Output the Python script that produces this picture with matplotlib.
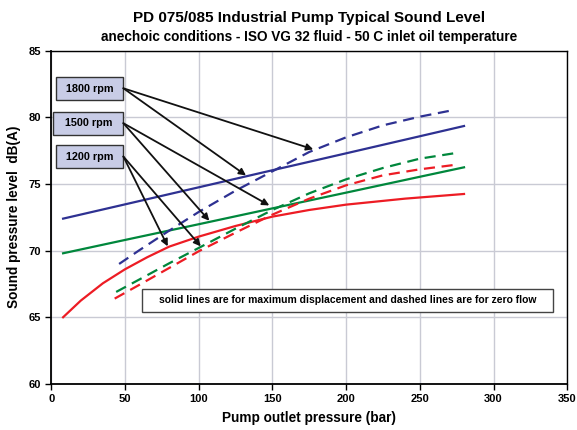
import matplotlib
matplotlib.use("Agg")
import matplotlib.pyplot as plt
from matplotlib.patches import Rectangle

plt.rcParams['font.family'] = ['Liberation Sans', 'DejaVu Sans']
plt.rcParams['font.weight'] = 'bold'

# solid lines = maximum displacement
p_solid = [8, 50, 100, 150, 200, 250, 280]
db_1800_solid = [72.4, 73.47, 74.75, 76.03, 77.3, 78.58, 79.35]
db_1500_solid = [69.8, 70.8, 71.98, 73.17, 74.35, 75.54, 76.25]
p_1200_solid = [8, 20, 35, 50, 65, 80, 100, 125, 150, 175, 200, 240, 280]
db_1200_solid = [65.0, 66.25, 67.55, 68.6, 69.5, 70.3, 71.05, 71.85, 72.55, 73.05, 73.45, 73.9, 74.25]

# dashed lines = zero flow
p_1800_dash = [46, 60, 80, 100, 125, 150, 175, 200, 225, 250, 273]
db_1800_dash = [69.0, 70.05, 71.5, 72.9, 74.5, 75.95, 77.4, 78.5, 79.4, 80.05, 80.55]
p_1500_dash = [44, 60, 80, 100, 125, 150, 175, 200, 225, 250, 276]
db_1500_dash = [66.9, 67.85, 69.05, 70.2, 71.65, 73.05, 74.3, 75.35, 76.2, 76.9, 77.35]
p_1200_dash = [43, 60, 80, 100, 125, 150, 175, 200, 225, 250, 275]
db_1200_dash = [66.4, 67.45, 68.7, 69.95, 71.35, 72.7, 73.9, 74.9, 75.65, 76.1, 76.45]

rpm_labels = ["1800 rpm", "1500 rpm", "1200 rpm"]
blue, green, red = "#2e3192", "#00873c", "#ed1c24"

fig = plt.figure(figsize=(5.77, 4.30), dpi=100)
ax = fig.add_axes([51.3 / 577, 1 - 383.9 / 430, 515.9 / 577, 333.2 / 430])

lw = 1.6
dash = (0, (5, 3))
ax.plot(p_solid, db_1800_solid, color=blue, lw=lw)
ax.plot(p_solid, db_1500_solid, color=green, lw=lw)
ax.plot(p_1200_solid, db_1200_solid, color=red, lw=lw)
ax.plot(p_1800_dash, db_1800_dash, color=blue, lw=lw, linestyle=dash)
ax.plot(p_1500_dash, db_1500_dash, color=green, lw=lw, linestyle=dash)
ax.plot(p_1200_dash, db_1200_dash, color=red, lw=lw, linestyle=dash)

ax.set_xlim(0, 350)
ax.set_ylim(60, 85)
ax.set_xticks(range(0, 351, 50))
ax.set_yticks(range(60, 86, 5))
ax.grid(True, color="#c9cad4", lw=1)
ax.set_axisbelow(True)
ax.tick_params(direction="out", length=4, labelsize=8, width=1)
for s in ax.spines.values():
    s.set_color("black")
    s.set_linewidth(1)
ax.spines['left'].set_linewidth(1.3)
ax.spines['bottom'].set_linewidth(1.3)

ax.set_xlabel("Pump outlet pressure (bar)", fontsize=9.8, fontweight="bold", labelpad=5)
ax.set_ylabel("Sound pressure level  dB(A)", fontsize=9.8, fontweight="bold", labelpad=5)

fig.text(309 / 577, 1 - 18 / 430, "PD 075/085 Industrial Pump Typical Sound Level",
         ha="center", va="center", fontsize=11, fontweight="bold")
fig.text(309 / 577, 1 - 37 / 430,
         "anechoic conditions - ISO VG 32 fluid - 50 C inlet oil temperature",
         ha="center", va="center", fontsize=9.8, fontweight="bold")

# rpm label boxes (data coords) and arrows
boxes = [(3.0, 81.3, 45.9, 1.7), (1.4, 78.7, 47.5, 1.7), (3.0, 76.2, 45.9, 1.7)]
origins = [(48.9, 82.18), (48.9, 79.56), (48.9, 77.06)]
targets = [[(177.7, 77.6), (132.1, 75.64)],
           [(147.9, 73.39), (107.2, 72.24)],
           [(79.0, 70.32), (101.4, 70.32)]]
for label, (bx, by, bw, bh), org, tips in zip(rpm_labels, boxes, origins, targets):
    ax.add_patch(Rectangle((bx, by), bw, bh, facecolor="#c8cce6", edgecolor="#333333",
                           lw=1, zorder=5, clip_on=False))
    ax.text(bx + bw / 2, by + bh / 2, label, ha="center", va="center",
            fontsize=7.8, fontweight="bold", zorder=6)
    for tip in tips:
        ax.annotate("", xy=tip, xytext=org,
                    arrowprops=dict(arrowstyle="-|>", color="#111111", lw=1.3,
                                    mutation_scale=10, shrinkA=0, shrinkB=0),
                    zorder=7)

# note box
ax.add_patch(Rectangle((61.6, 65.43), 278.8, 1.72, facecolor="white",
                       edgecolor="#444444", lw=1, zorder=5))
ax.text(201, 66.3, "solid lines are for maximum displacement and dashed lines are for zero flow",
        ha="center", va="center", fontsize=7.5, fontweight="bold", zorder=6)

fig.savefig("out.png", dpi=100)
